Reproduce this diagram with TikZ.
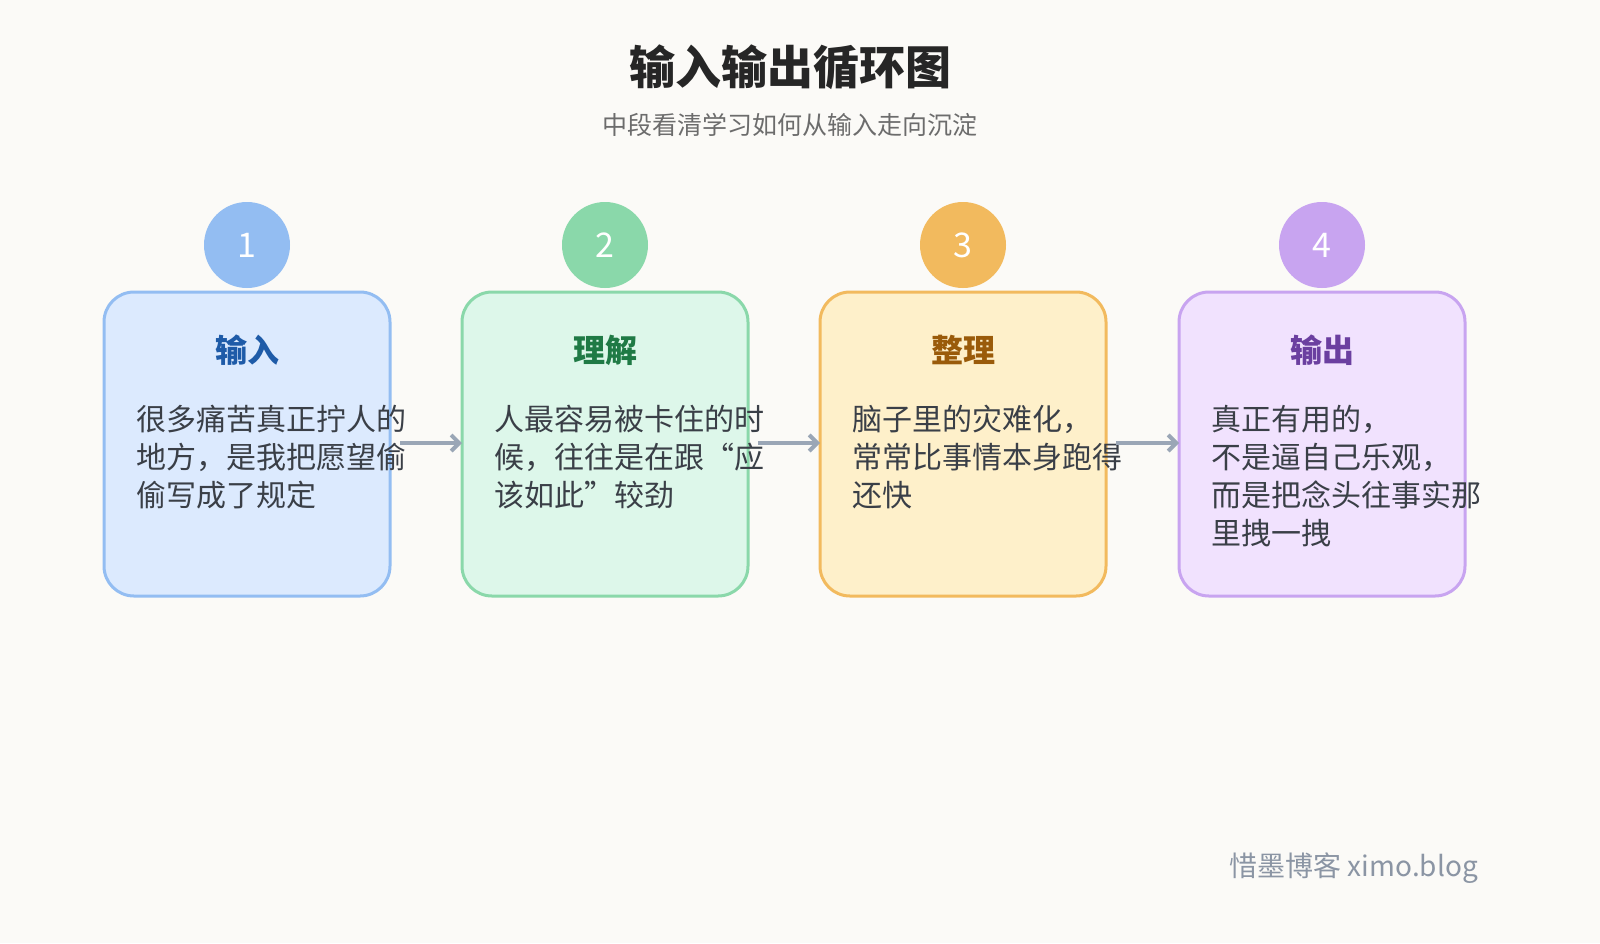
\documentclass[tikz,border=0pt]{standalone}
\usepackage{fontspec}
\setmainfont{Noto Sans CJK SC}
\usetikzlibrary{arrows.meta}
\definecolor{bgc}{HTML}{FBFAF7}
\definecolor{fillA}{HTML}{DCEAFE}\definecolor{lineA}{HTML}{93BDF2}\definecolor{headA}{HTML}{1E5BA8}
\definecolor{fillB}{HTML}{DDF7EA}\definecolor{lineB}{HTML}{8AD8AA}\definecolor{headB}{HTML}{1F7A45}
\definecolor{fillC}{HTML}{FEF0CA}\definecolor{lineC}{HTML}{F2BA5E}\definecolor{headC}{HTML}{9A5B0A}
\definecolor{fillD}{HTML}{F1E2FE}\definecolor{lineD}{HTML}{C8A4F0}\definecolor{headD}{HTML}{6B3FA0}
\definecolor{arrowc}{HTML}{9AA6B6}
\definecolor{textc}{HTML}{3A3F47}
\tikzset{
  stagebox/.style={draw=#1, line width=1.5pt, rounded corners=15pt},
  badge/.style={circle, fill=#1, draw=none, minimum size=43pt, inner sep=0pt, text=white, font=\fontsize{17}{17}\selectfont},
  stagehead/.style={font=\fontsize{16}{16}\selectfont\bfseries, text=#1},
  stagetext/.style={anchor=north west, align=left, inner sep=0pt, text=textc, font=\fontsize{15}{19}\selectfont},
  flow/.style={draw=arrowc, line width=2pt, -{Straight Barb[length=4pt]}}
}
\begin{document}
\begin{tikzpicture}[x=0.5pt, y=-0.5pt]
\fill[bgc] (0,0) rectangle (1600,943);
\node[font=\fontsize{23}{23}\selectfont\bfseries, text=black!85] (title) at (790,67) {输入输出循环图};
\node[font=\fontsize{12.5}{12.5}\selectfont, text=gray!85!black] (sub) at (790,125) {中段看清学习如何从输入走向沉淀};
% stages
\foreach \n/\x/\c/\num/\head in {a/104/A/1/输入, b/462/B/2/理解, c/820/C/3/整理, d/1179/D/4/输出}{
  \draw[stagebox=line\c, fill=fill\c] (\x,292) rectangle ++(286,304);
  \coordinate (\n w) at (\x,443);
  \coordinate (\n e) at (\x+286,443);
  \node[badge=line\c] (\n num) at (\x+143,245) {\num};
  \node[stagehead=head\c] (\n head) at (\x+143,350) {\head};
}
\node[stagetext] (atext) at (136,405) {很多痛苦真正拧人的\\地方，是我把愿望偷\\偷写成了规定};
\node[stagetext] (btext) at (494,405) {人最容易被卡住的时\\候，往往是在跟“应\\该如此”较劲};
\node[stagetext] (ctext) at (852,405) {脑子里的灾难化，\\常常比事情本身跑得\\还快};
\node[stagetext] (dtext) at (1211,405) {真正有用的，\\不是逼自己乐观，\\而是把念头往事实那\\里拽一拽};
\draw[flow] ([xshift=5pt]ae) -- (bw);
\draw[flow] ([xshift=5pt]be) -- (cw);
\draw[flow] ([xshift=5pt]ce) -- (dw);
\node[anchor=east, font=\fontsize{14}{14}\selectfont, text=arrowc!90!black] (foot) at (1485,868) {惜墨博客 ximo.blog};
\end{tikzpicture}
\end{document}
